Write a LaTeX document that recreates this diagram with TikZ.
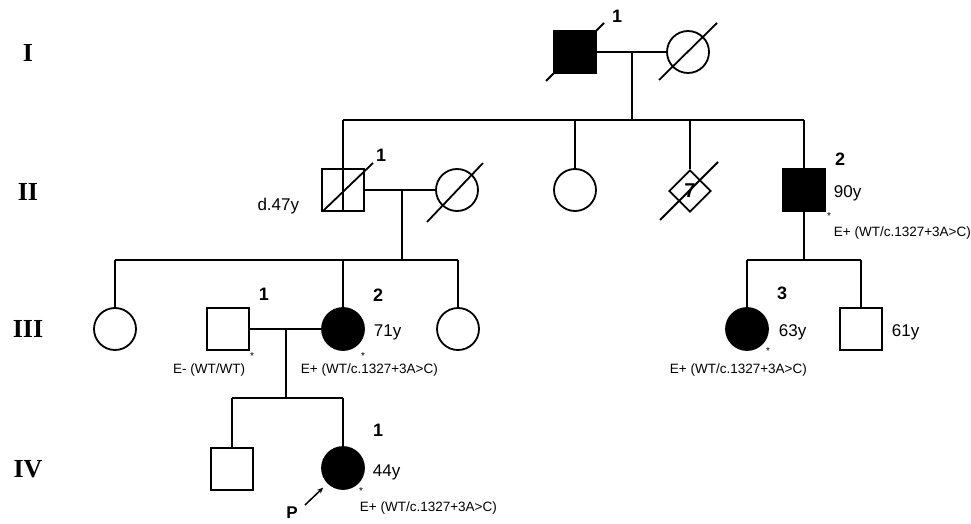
\documentclass[tikz,border=0pt]{standalone}
\usepackage{fontspec}
\setmainfont{Liberation Sans}
\newfontfamily\genfont{Liberation Serif}
\usetikzlibrary{shapes.geometric,arrows.meta}

\begin{document}
\begin{tikzpicture}[x=1pt,y=-1pt,line width=1.8pt,
  male/.style={draw,rectangle,minimum size=42pt,inner sep=0pt},
  female/.style={draw,circle,minimum size=42pt,inner sep=0pt},
  sexunk/.style={draw,diamond,minimum width=42pt,minimum height=42pt,inner sep=0pt},
  affected/.style={fill=black},
  gen/.style={font=\genfont\bfseries\fontsize{26}{26}\selectfont,inner sep=0pt},
  idn/.style={font=\bfseries\fontsize{18}{18}\selectfont,inner sep=0pt},
  age/.style={font=\fontsize{17}{17}\selectfont,inner sep=0pt},
  geno/.style={font=\fontsize{13.5}{14}\selectfont,inner sep=0pt},
  star/.style={font=\fontsize{10}{10}\selectfont,inner sep=0pt},
  slash/.style={line width=1.8pt}]

\useasboundingbox (0,0) rectangle (971,524);

% generation labels
\node[gen] (gI)   at (28,53)  {I};
\node[gen] (gII)  at (28,192) {II};
\node[gen] (gIII) at (28,329) {III};
\node[gen] (gIV)  at (28,469) {IV};

% ---------- generation I ----------
\node[male,affected] (i1) at (575,52) {};
\node[female] (i2) at (688,52) {};
\draw[slash] ([shift={(-29,29)}]i1.center) -- ([shift={(29,-29)}]i1.center);
\draw[slash] ([shift={(-29,28)}]i2.center) -- ([shift={(29,-29)}]i2.center);
\node[idn] (li1) at (617,16) {1};
\draw (i1.east) -- (i2.west);
\coordinate (m1) at (632,52);
\coordinate (s1) at (632,120);
\draw (m1) -- (s1);

% ---------- generation II ----------
\node[male] (ii1) at (343,190) {};
\node[female] (ii1w) at (457,190) {};
\node[female] (ii3) at (575,190) {};
\node[sexunk] (ii4) at (690,191) {};
\node[font=\bfseries\fontsize{20}{20}\selectfont,inner sep=0pt] (n7) at (ii4) {7};
\node[male,affected] (ii2) at (804,190) {};

\draw (ii1.north |- s1) -- (ii2.north |- s1);
\foreach \c in {ii1,ii3,ii4,ii2} \draw (\c.north |- s1) -- (\c.north);
\draw[line width=2.6pt] (ii1.north) -- (ii1.south);
\draw[slash] ([shift={(-20,21)}]ii1.center) -- ([shift={(30,-27)}]ii1.center);
\draw[slash] ([shift={(-30,32)}]ii1w.center) -- ([shift={(26,-27)}]ii1w.center);
\draw[slash] ([shift={(-30,29)}]ii4.center) -- ([shift={(28,-29)}]ii4.center);

\node[idn] (lii1) at (381,155) {1};
\node[age,anchor=east] (dii1) at (300,206) {d.47y};
\node[idn] (lii2) at (840,159) {2};
\node[age,anchor=west] (aii2) at (833,193) {90y};
\node[star] (sii2) at (829,216) {*};
\node[geno,anchor=west] (gii2) at (833,233) {E+ (WT/c.1327+3A>C)};

\draw (ii1.east) -- (ii1w.west);
\coordinate (m2) at (402,190);
\coordinate (s2) at (402,260);
\draw (m2) -- (s2);
\coordinate (s3) at (804,260);
\draw (ii2.south) -- (s3);

% ---------- generation III ----------
\node[female] (iiia) at (115,329) {};
\node[male] (iii1) at (228,329) {};
\node[female,affected] (iii2) at (343,329) {};
\node[female] (iiib) at (458,329) {};
\node[female,affected] (iii3) at (747,329) {};
\node[male] (iiic) at (861,329) {};

\draw (iiia.north |- s2) -- (iiib.north |- s2);
\foreach \c in {iiia,iii2,iiib} \draw (\c.north |- s2) -- (\c.north);
\draw (iii3.north |- s3) -- (iiic.north |- s3);
\foreach \c in {iii3,iiic} \draw (\c.north |- s3) -- (\c.north);

\node[idn] (liii1) at (264,294) {1};
\node[star] (siii1) at (252,356) {*};
\node[geno,anchor=east] (giii1) at (246,370) {E- (WT/WT)};
\node[idn] (liii2) at (378,295) {2};
\node[age,anchor=west] (aiii2) at (373,332) {71y};
\node[star] (siii2) at (363,356) {*};
\node[geno,anchor=west] (giii2) at (300,370) {E+ (WT/c.1327+3A>C)};
\node[idn] (liii3) at (782,293) {3};
\node[age,anchor=west] (aiii3) at (778,332) {63y};
\node[star] (siii3) at (768,351) {*};
\node[geno,anchor=west] (giii3) at (669,370) {E+ (WT/c.1327+3A>C)};
\node[age,anchor=west] (aiiic) at (891,332) {61y};

\draw (iii1.east) -- (iii2.west);
\coordinate (m4) at (286,329);
\coordinate (s4) at (286,398);
\draw (m4) -- (s4);

% ---------- generation IV ----------
\node[male] (iva) at (232,469) {};
\node[female,affected] (iv1) at (343,468) {};
\draw (iva.north |- s4) -- (iv1.north |- s4);
\foreach \c in {iva,iv1} \draw (\c.north |- s4) -- (\c.north);

\node[idn] (liv1) at (378,430) {1};
\node[age,anchor=west] (aiv1) at (372,472) {44y};
\node[star] (siv1) at (361,491) {*};
\node[geno,anchor=west] (giv1) at (359,508) {E+ (WT/c.1327+3A>C)};

% proband
\coordinate (ptail) at (305,505);
\draw[line width=1.5pt,-{Stealth[length=6pt,width=5pt]},shorten >=6pt] (ptail) -- (iv1.225);
\node[idn,font=\bfseries\fontsize{17}{17}\selectfont] (pl) at (292,513) {P};
\end{tikzpicture}
\end{document}
